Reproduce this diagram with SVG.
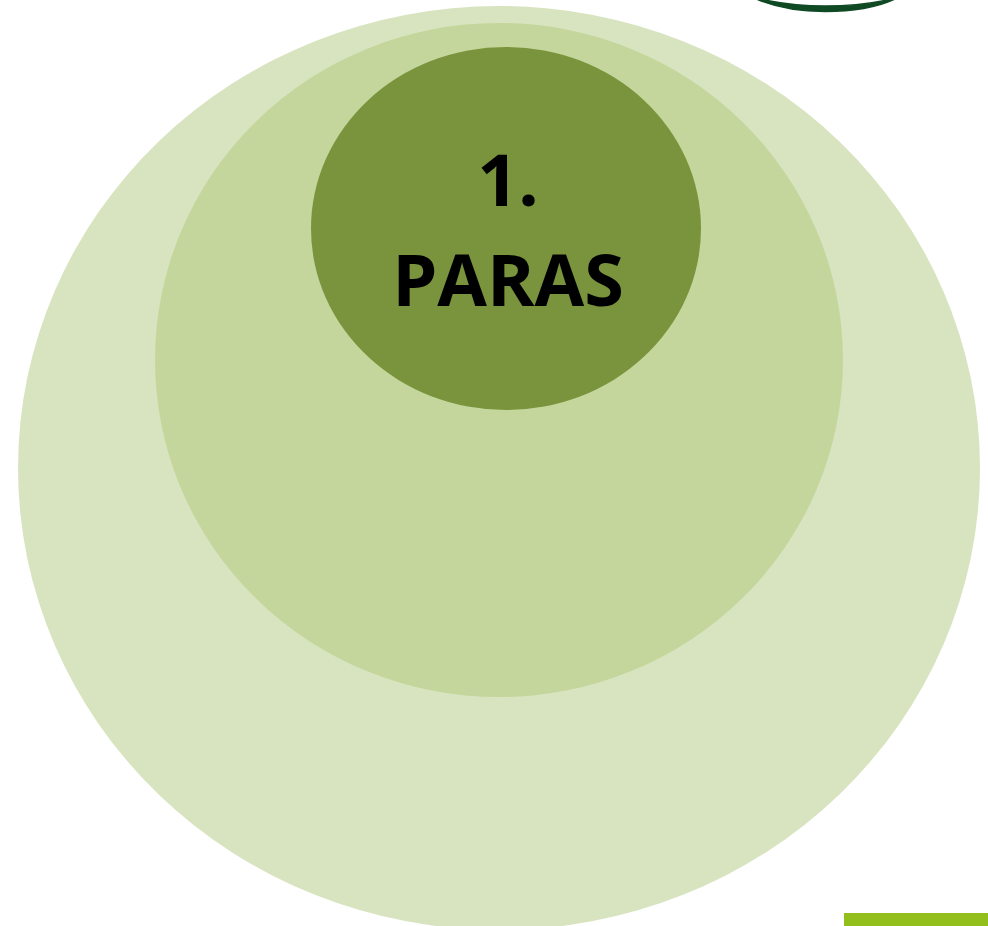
<svg xmlns="http://www.w3.org/2000/svg" width="988" height="926" viewBox="0 0 988 926">
<style>
.lbl{font-family:"Open Sans","Noto Sans","Liberation Sans",sans-serif;font-weight:700;fill:#000;text-anchor:middle}
</style>
<rect width="988" height="926" fill="#fff"/>
<g id="logo-fragment"><path d="M752 -3C775 8 800 11.500 825 11.500C855 11.500 880 7 899 -3C878 3 855 6 825 6C800 6 775 3 752 -3Z" fill="#0f4a25" stroke="#0f4a25" stroke-width="1.500"/></g>
<g id="node-outer"><ellipse cx="499" cy="468" rx="481" ry="462" fill="#d8e4bf"/></g>
<g id="node-middle"><ellipse cx="499" cy="360" rx="344" ry="337" fill="#c4d69b"/></g>
<g id="node-inner"><ellipse cx="506" cy="228.500" rx="195" ry="181.500" fill="#79943c"/>
<text class="lbl" x="508" y="206" font-size="72">1.</text>
<text class="lbl" x="508" y="306" font-size="72">PARAS</text></g>
<g id="corner-bar"><rect x="844" y="913" width="144" height="13" fill="#93bf1c"/></g>
<g id="connectors"/>
</svg>
